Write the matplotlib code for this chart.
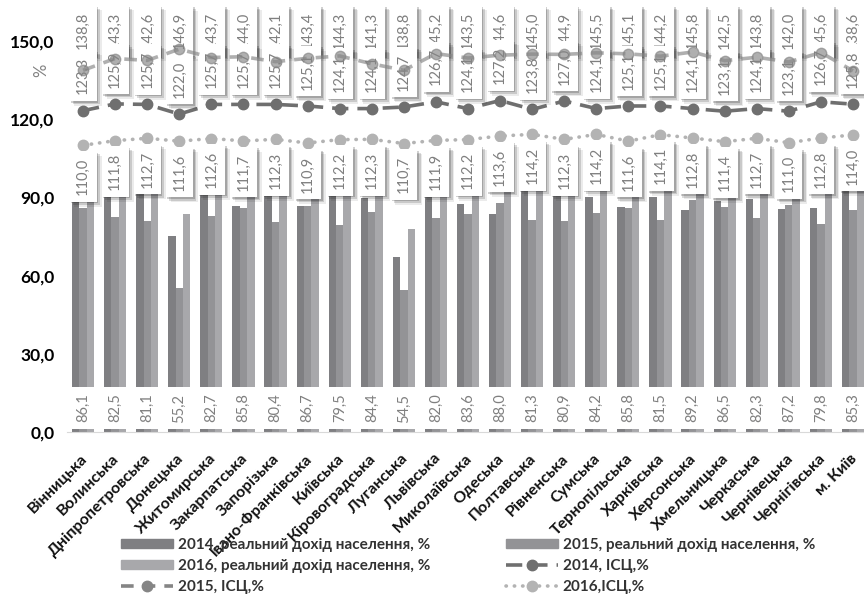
import matplotlib.pyplot as plt
import matplotlib.patheffects as pe
from matplotlib.patches import Patch
from matplotlib.lines import Line2D
from matplotlib.transforms import ScaledTranslation
import numpy as np

regions = ['Вінницька', 'Волинська', 'Дніпропетровська', 'Донецька', 'Житомирська',
           'Закарпатська', 'Запорізька', 'Івано-Франківська', 'Київська', 'Кіровоградська',
           'Луганська', 'Львівська', 'Миколаївська', 'Одеська', 'Полтавська',
           'Рівненська', 'Сумська', 'Тернопільська', 'Харківська', 'Херсонська',
           'Хмельницька', 'Черкаська', 'Чернівецька', 'Чернігівська', 'м. Київ']

income_2014 = [91.3, 91.0, 94.2, 75.3, 91.0, 86.9, 94.1, 86.6, 92.3, 89.7, 67.3, 90.2, 87.4,
               83.8, 92.3, 91.5, 90.3, 86.5, 90.0, 85.1, 88.7, 89.3, 85.7, 85.9, 100.2]
income_2015 = [86.1, 82.5, 81.1, 55.2, 82.7, 85.8, 80.4, 86.7, 79.5, 84.4, 54.5, 82.0, 83.6,
               88.0, 81.3, 80.9, 84.2, 85.8, 81.5, 89.2, 86.5, 82.3, 87.2, 79.8, 85.3]
income_2016 = [106.0, 106.4, 99.2, 83.8, 105.2, 104.6, 105.0, 105.8, 104.5, 104.3, 78.0, 104.8, 104.4,
               105.2, 102.2, 103.0, 101.7, 103.4, 103.0, 103.0, 103.7, 104.9, 105.0, 101.7, 110.6]

cpi_2014 = [123.3, 125.9, 125.7, 122.0, 125.7, 125.7, 125.7, 125.1, 124.1, 124.1, 124.7, 126.7, 124.1,
            127.2, 123.8, 127.0, 124.1, 125.1, 125.1, 124.1, 123.1, 124.1, 123.1, 126.7, 125.8]
cpi_2015 = [138.8, 143.3, 142.6, 146.9, 143.7, 144.0, 142.1, 143.4, 144.3, 141.3, 138.8, 145.2, 143.5,
            144.6, 145.0, 144.9, 145.5, 145.1, 144.2, 145.8, 142.5, 143.8, 142.0, 145.6, 138.6]
cpi_2016 = [110.0, 111.8, 112.7, 111.6, 112.6, 111.7, 112.3, 110.9, 112.2, 112.3, 110.7, 111.9, 112.2,
            113.6, 114.2, 112.3, 114.2, 111.6, 114.1, 112.8, 111.4, 112.7, 111.0, 112.8, 114.0]

yticks = [0, 30, 60, 90, 120, 150]


def fmt(v):
    return f'{v:.1f}'.replace('.', ',')


plt.rcParams['font.family'] = ['Lato', 'DejaVu Sans']

c14, c15, c16 = '#7f7f82', '#939396', '#a8a8ab'
lc14, lc15, lc16 = '#6f6f6f', '#858585', '#b3b3b3'
label_grey = '#7f7f7f'

fig = plt.figure(figsize=(8.64, 5.96), dpi=100)
ax = fig.add_axes([67 / 864, (596 - 432) / 596, 802 / 864, 430 / 596])
ax.set_xlim(-0.5, len(regions) - 0.5)
ax.set_ylim(0, 165)

x = np.arange(len(regions))
w = 0.23
ax.bar(x - w, income_2014, w, color=c14, zorder=1)
ax.bar(x, income_2015, w, color=c15, zorder=1)
ax.bar(x + w, income_2016, w, color=c16, zorder=1)

ax.plot(x, cpi_2014, color=lc14, lw=2.6, ls=(0, (4.5, 2.5)), marker='o', ms=7.5, zorder=3)
ax.plot(x, cpi_2015, color=lc15, lw=2.6, ls=(0, (3.5, 2.5)), marker='o', ms=7.5,
        alpha=0.65, zorder=8)
ax.plot(x, cpi_2016, color=lc16, lw=2.6, ls=(0, (0.1, 2.2)), dash_capstyle='round',
        marker='o', ms=7.5, zorder=3)

shadow = [pe.SimplePatchShadow(offset=(1.2, -1.2), shadow_rgbFace='#000000', alpha=0.18),
          pe.SimplePatchShadow(offset=(2.4, -2.4), shadow_rgbFace='#000000', alpha=0.14),
          pe.SimplePatchShadow(offset=(3.6, -3.6), shadow_rgbFace='#000000', alpha=0.08),
          pe.Normal()]


def box_label(xp, yp, text, dy, z, with_shadow=True):
    t = ax.annotate(text, xy=(xp, yp), xytext=(0, dy), textcoords='offset pixels',
                    rotation=90, ha='center', va='center', fontsize=10.5, color=label_grey,
                    bbox=dict(boxstyle='square,pad=0.45', fc='white', ec='none'),
                    zorder=z, annotation_clip=False)
    if with_shadow:
        t.get_bbox_patch().set_path_effects(shadow)
    return t


# income 2015 labels sit at the base of the bars
for i, v in enumerate(income_2015):
    box_label(i, 9.2, fmt(v), 0, 4, with_shadow=False)

# CPI 2016 labels below the dotted line
for i, v in enumerate(cpi_2016):
    box_label(i, v, fmt(v), -31, 5)

# CPI 2015 labels are pushed against the top of the chart
for i, v in enumerate(cpi_2015):
    box_label(i, 154.0, fmt(v), 0, 6)

# CPI 2014 labels above their points
for i, v in enumerate(cpi_2014):
    box_label(i, v, fmt(v), 35, 7)

ax.set_yticks(yticks)
ax.set_yticklabels([fmt(v) for v in yticks], fontsize=12.5, fontweight='bold', color='black')
ax.tick_params(axis='y', length=0, pad=9)
ax.set_xticks(x)
ax.set_xticklabels(regions, rotation=45, ha='right', rotation_mode='anchor',
                   fontsize=11.5, fontweight='bold', color='#111111')
ax.tick_params(axis='x', length=0, pad=14)
for lab in ax.get_xticklabels():
    lab.set_transform(lab.get_transform() + ScaledTranslation(-3 / 100, 0, fig.dpi_scale_trans))

for side in ['left', 'right', 'top']:
    ax.spines[side].set_visible(False)
ax.spines['bottom'].set_color('#d9d9d9')

fig.text(41 / 864, 1 - 70 / 596, '%', rotation=90, ha='center', va='center',
         fontsize=12, color='#808080')

handles = [
    Patch(color=c14),
    Patch(color=c16),
    Line2D([], [], color=lc15, lw=2.6, ls=(0, (3.5, 2.5)), marker='o', ms=7.5),
    Patch(color=c15),
    Line2D([], [], color=lc14, lw=2.6, ls=(0, (4.5, 2.5)), marker='o', ms=7.5),
    Line2D([], [], color=lc16, lw=2.6, ls=(0, (0.1, 2.2)), dash_capstyle='round',
           marker='o', ms=7.5),
]
labels = ['2014, реальний дохід населення, %', '2016, реальний дохід населення, %',
          '2015, ІСЦ,%', '2015, реальний дохід населення, %', '2014, ІСЦ,%', '2016,ІСЦ,%']
fig.legend(handles, labels, ncol=2, loc='upper left', bbox_to_anchor=(121 / 864, 1 - 538 / 596),
           frameon=False, prop={'weight': 'bold', 'size': 11}, labelcolor='#333333',
           handlelength=3.4, handleheight=0.55, handletextpad=0.3, columnspacing=5.0,
           labelspacing=0.45, borderpad=0, borderaxespad=0)

fig.savefig('out.png', dpi=100)
